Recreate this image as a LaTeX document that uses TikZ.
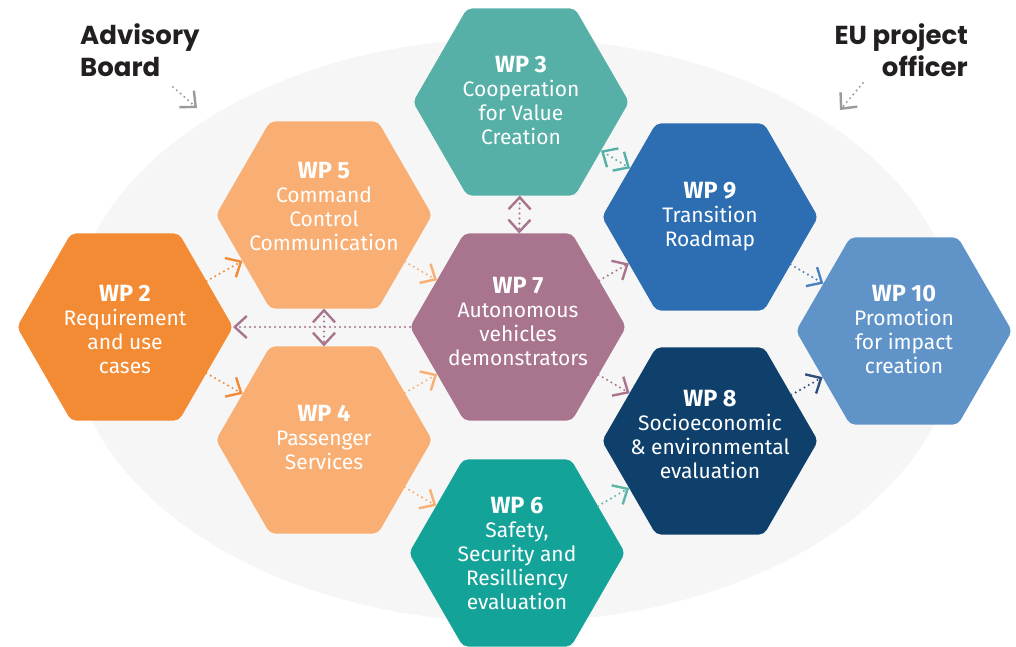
\documentclass[tikz,border=0pt]{standalone}
\usepackage{fontspec}
\setmainfont{Fira Sans}
\newfontfamily\popfont{Poppins}
\usetikzlibrary{shapes.geometric,arrows.meta}
\definecolor{bgc}{HTML}{F6F6F6}
\definecolor{cA}{HTML}{F38B34}
\definecolor{cB}{HTML}{F9AF73}
\definecolor{cC}{HTML}{57B0A7}
\definecolor{cD}{HTML}{A8748E}
\definecolor{cE}{HTML}{14A398}
\definecolor{cF}{HTML}{2D6DB2}
\definecolor{cG}{HTML}{0F406B}
\definecolor{cH}{HTML}{6093C7}
\definecolor{cFl}{HTML}{4A82C0}
\definecolor{cGl}{HTML}{2F4F7F}
\definecolor{cEl}{HTML}{5BB5A8}
\definecolor{grc}{HTML}{9A9A9A}
\definecolor{ttl}{HTML}{231F20}
\newcommand\wplabel[1]{{\fontsize{23.5}{24}\selectfont\bfseries #1}}
\begin{document}
\begin{tikzpicture}[x=1pt,y=-1pt,
  hexa/.style={regular polygon, regular polygon sides=6, minimum size=216pt,
    inner sep=0pt, outer sep=0pt, rounded corners=5pt, fill=#1},
  wptext/.style={anchor=north, align=center, inner sep=0pt, text=white,
    font=\fontsize{21}{24}\selectfont},
  barb/.tip={Straight Barb[length=12pt,width=22pt,line width=2.4pt]},
  link/.style={draw=#1, line width=2.3pt, dash pattern=on 0pt off 5pt,
    line cap=round, -barb},
  dlink/.style={draw=#1, line width=2.3pt, dash pattern=on 0pt off 5pt,
    line cap=round, barb-barb},
  title/.style={inner sep=0pt, text=ttl, font=\popfont\bfseries\fontsize{26}{32}\selectfont}
]
\useasboundingbox (0,0) rectangle (1016,646);
\node[ellipse, minimum width=888pt, minimum height=584pt, inner sep=0pt,
  fill=bgc] (field) at (514,330) {};

\node[title, anchor=north west, align=left] (adv) at (80,23) {Advisory\\Board};
\node[title, anchor=north east, align=right] (eu) at (968,23) {EU project\\officer};
\coordinate (adv1) at (173,87);
\coordinate (adv2) at (197,108);
\coordinate (eu1) at (863,83);
\coordinate (eu2) at (840,110);
\draw[link=grc] (adv1) -- (adv2);
\draw[link=grc] (eu1) -- (eu2);

\node[hexa=cA] (wp2) at (125,327) {};
\node[hexa=cB] (wp5) at (324,215) {};
\node[hexa=cB] (wp4) at (324,440) {};
\node[hexa=cC] (wp3) at (521,102) {};
\node[hexa=cD] (wp7) at (518,327) {};
\node[hexa=cE] (wp6) at (517,553) {};
\node[hexa=cF] (wp9) at (710,217) {};
\node[hexa=cG] (wp8) at (710,441) {};
\node[hexa=cH] (wp10) at (904,331) {};

\node[wptext] (wp2t) at (125,285) {\wplabel{WP 2}\\Requirement\\and use\\cases};
\node[wptext] (wp5t) at (324,162) {\wplabel{WP 5}\\Command\\Control\\Communication};
\node[wptext] (wp4t) at (324,405) {\wplabel{WP 4}\\Passenger\\Services};
\node[wptext] (wp3t) at (521,56) {\wplabel{WP 3}\\Cooperation\\for Value\\Creation};
\node[wptext] (wp7t) at (518,277) {\wplabel{WP 7}\\Autonomous\\vehicles\\demonstrators};
\node[wptext] (wp6t) at (517,497) {\wplabel{WP 6}\\Safety,\\Security and\\Resilliency\\evaluation};
\node[wptext] (wp9t) at (710,182) {\wplabel{WP 9}\\Transition\\Roadmap};
\node[wptext] (wp8t) at (710,390) {\wplabel{WP 8}\\Socioeconomic\\\& environmental\\evaluation};
\node[wptext] (wp10t) at (904,285) {\wplabel{WP 10}\\Promotion\\for impact\\creation};

\draw[link=cA] (wp2) -- (wp5);
\draw[link=cA] (wp2) -- (wp4);
\draw[link=cB] (wp5) -- (wp7);
\draw[link=cB] (wp4) -- (wp7);
\draw[link=cB] (wp4) -- (wp6);
\draw[link=cD] (wp7) -- (wp2);
\draw[dlink=cD] (wp5) -- (wp4);
\draw[dlink=cD] (wp3) -- (wp7);
\draw[dlink=cC] (wp3) -- (wp9);
\draw[link=cD] (wp7) -- (wp9);
\draw[link=cD] (wp7) -- (wp8);
\draw[link=cEl] (wp6) -- (wp8);
\draw[link=cFl] (wp9) -- (wp10);
\draw[link=cGl] (wp8) -- (wp10);
\end{tikzpicture}
\end{document}
